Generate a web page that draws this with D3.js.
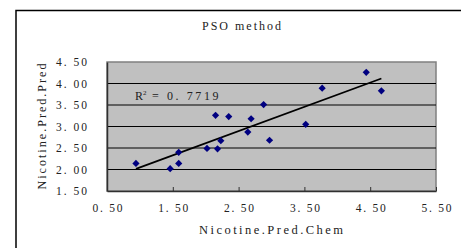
<!DOCTYPE html>
<html>
<head>
<meta charset="utf-8">
<script src="https://cdn.jsdelivr.net/npm/d3@7"></script>
<style>
body { margin: 0; background: #fff; }
text { font-family: "Liberation Serif", "DejaVu Serif", serif; fill: #222; }
</style>
</head>
<body>
<div id="chart"></div>
<script>
// measured vs predicted nicotine
const chemVals = [0.94, 1.46, 1.59, 1.59, 2.02, 2.18, 2.23, 2.15, 2.35, 2.64, 2.69, 2.88, 2.97, 3.52, 3.77, 4.44, 4.67];
const predVals = [2.14, 2.02, 2.40, 2.14, 2.49, 2.48, 2.67, 3.26, 3.23, 2.87, 3.18, 3.51, 2.68, 3.05, 3.89, 4.26, 3.83];
const xTicks = [0.5, 1.5, 2.5, 3.5, 4.5, 5.5];
const yTicks = [1.5, 2.0, 2.5, 3.0, 3.5, 4.0, 4.5];
const r2Label = "0. 7719";

const width = 461;
const height = 248;
const marginLeft = 107;
const marginRight = 25;
const marginTop = 62;
const marginBottom = 57;

const data = chemVals.map((v, i) => ({x: v, y: predVals[i]}));

const x = d3.scaleLinear()
    .domain([0.5, 5.5])
    .range([marginLeft, width - marginRight]);

const y = d3.scaleLinear()
    .domain([1.5, 4.5])
    .range([height - marginBottom, marginTop]);

// excel style "0. 50" labels
const fmt = d => d.toFixed(2).replace(".", ". ");

const svg = d3.select("#chart").append("svg")
    .attr("width", width)
    .attr("height", height)
    .attr("viewBox", [0, 0, width, height]);

// outer chart border (cut off at right and bottom)
svg.append("rect")
    .attr("x", 16)
    .attr("y", 10.5)
    .attr("width", 460)
    .attr("height", 260)
    .attr("fill", "#fff")
    .attr("stroke", "#000")
    .attr("stroke-width", 1.5);

svg.append("text")
    .attr("x", 202)
    .attr("y", 30)
    .attr("font-size", 12)
    .attr("textLength", 79)
    .attr("lengthAdjust", "spacing")
    .text("PSO method");

// plot area
svg.append("rect")
    .attr("x", x(0.5))
    .attr("y", y(4.5))
    .attr("width", x(5.5) - x(0.5))
    .attr("height", y(1.5) - y(4.5))
    .attr("fill", "#c0c0c0")
    .attr("stroke", "#808080")
    .attr("stroke-width", 1.5);

svg.append("g")
    .selectAll("line")
    .data(yTicks.filter(d => d > 1.5 && d < 4.5))
    .join("line")
      .attr("x1", x(0.5))
      .attr("x2", x(5.5))
      .attr("y1", d => y(d))
      .attr("y2", d => y(d))
      .attr("stroke", "#000")
      .attr("stroke-width", 1);

// x axis, ticks point inward
svg.append("g")
    .attr("transform", `translate(0,${y(1.5)})`)
    .call(d3.axisBottom(x).tickValues(xTicks).tickFormat(fmt).tickSizeInner(-4).tickSizeOuter(0).tickPadding(13))
    .call(g => g.select(".domain").attr("stroke", "#303030").attr("stroke-width", 1.5))
    .call(g => g.selectAll(".tick line").attr("stroke", "#303030"))
    .call(g => g.selectAll("text")
        .attr("font-size", 11.5)
        .attr("font-family", "Liberation Serif")
        .attr("fill", "#222")
        .attr("textLength", 30)
        .attr("lengthAdjust", "spacing"));

// y axis
svg.append("g")
    .attr("transform", `translate(${x(0.5)},0)`)
    .call(d3.axisLeft(y).tickValues(yTicks).tickFormat(fmt).tickSize(0).tickPadding(20))
    .call(g => g.select(".domain").attr("stroke", "#303030").attr("stroke-width", 1.5))
    .call(g => g.selectAll("text")
        .attr("font-size", 11.5)
        .attr("font-family", "Liberation Serif")
        .attr("fill", "#222")
        .attr("textLength", 31)
        .attr("lengthAdjust", "spacing"));

svg.append("text")
    .attr("x", 199)
    .attr("y", 234)
    .attr("font-size", 12.5)
    .attr("textLength", 144)
    .attr("lengthAdjust", "spacing")
    .text("Nicotine.Pred.Chem");

svg.append("text")
    .attr("transform", `translate(46,${(y(1.5) + y(4.5)) / 2}) rotate(-90)`)
    .attr("text-anchor", "middle")
    .attr("font-size", 12)
    .attr("textLength", 126)
    .attr("lengthAdjust", "spacing")
    .text("Nicotine.Pred.Pred");

// linear trendline
const mx = d3.mean(data, d => d.x);
const my = d3.mean(data, d => d.y);
const slope = d3.sum(data, d => (d.x - mx) * (d.y - my)) / d3.sum(data, d => (d.x - mx) ** 2);
const icpt = my - slope * mx;
const [x0, x1] = d3.extent(data, d => d.x);

svg.append("line")
    .attr("x1", x(x0))
    .attr("y1", y(icpt + slope * x0))
    .attr("x2", x(x1))
    .attr("y2", y(icpt + slope * x1))
    .attr("stroke", "#000")
    .attr("stroke-width", 1.8);

svg.append("g")
    .selectAll("path")
    .data(data)
    .join("path")
      .attr("d", d3.symbol(d3.symbolSquare, 26))
      .attr("transform", d => `translate(${x(d.x)},${y(d.y)}) rotate(45)`)
      .attr("fill", "#000080");

const r2 = svg.append("text")
    .attr("x", 135)
    .attr("y", 100)
    .attr("font-size", 12);
r2.append("tspan").text("R");
r2.append("tspan").attr("dy", -5).attr("font-size", 7).text("2");
r2.append("tspan").attr("dy", 5).attr("textLength", 72).attr("lengthAdjust", "spacing").text(" = " + r2Label);
</script>
</body>
</html>
